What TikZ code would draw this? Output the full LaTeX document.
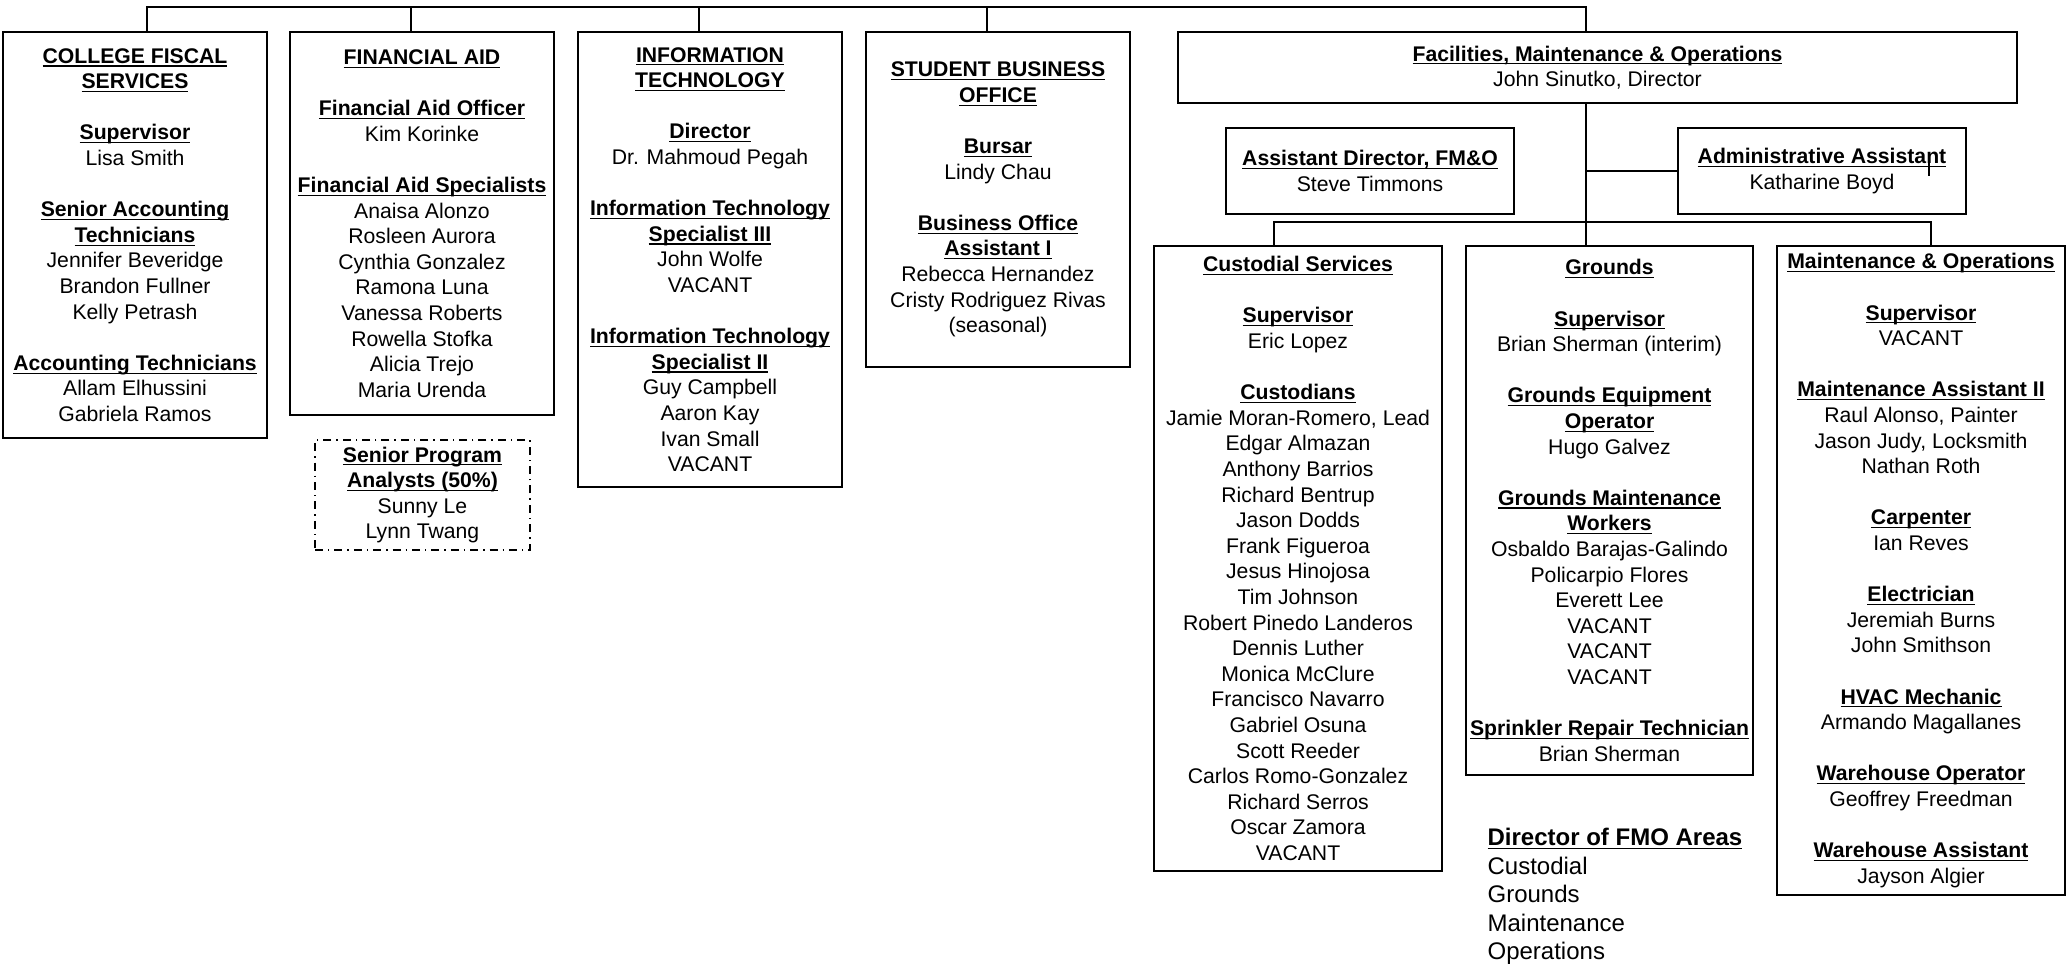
\documentclass[tikz,border=0pt]{standalone}
\usepackage{fontspec}
\setmainfont{Liberation Sans}
\newsavebox{\hdbox}
\newcommand{\hd}[1]{{\bfseries\sbox{\hdbox}{#1}\rlap{\rule[-1.7pt]{\wd\hdbox}{0.6pt}}\usebox{\hdbox}}}

\begin{document}
\begin{tikzpicture}[x=0.5pt, y=-0.5pt, line width=0.6pt,
  box/.style={draw, align=center, inner sep=0pt, font=\fontsize{10.6}{12.8}\selectfont},
  dotbox/.style={box, dash pattern=on 4pt off 2.5pt on 0.7pt off 2.5pt}]

\useasboundingbox (0,0) rectangle (2070,971);

% departments
\node[box, minimum width=132pt, minimum height=203pt] (cfs) at (135,235)
  {\hd{COLLEGE FISCAL}\\ \hd{SERVICES}\\[12.8pt]
   \hd{Supervisor}\\ Lisa Smith\\[12.8pt]
   \hd{Senior Accounting}\\ \hd{Technicians}\\ Jennifer Beveridge\\ Brandon Fullner\\ Kelly Petrash\\[12.8pt]
   \hd{Accounting Technicians}\\ Allam Elhussini\\ Gabriela Ramos};

\node[box, minimum width=132pt, minimum height=191.5pt] (fa) at (422,223.5)
  {\hd{FINANCIAL AID}\\[12.8pt]
   \hd{Financial Aid Officer}\\ Kim Korinke\\[12.8pt]
   \hd{Financial Aid Specialists}\\ Anaisa Alonzo\\ Rosleen Aurora\\ Cynthia Gonzalez\\ Ramona Luna\\
   Vanessa Roberts\\ Rowella Stofka\\ Alicia Trejo\\ Maria Urenda};

\node[dotbox, minimum width=107.5pt, minimum height=55pt] (spa) at (422.5,495)
  {\hd{Senior Program}\\ \hd{Analysts (50\%)}\\ Sunny Le\\ Lynn Twang};

\node[box, minimum width=132pt, minimum height=227.5pt] (it) at (710,259.5)
  {\hd{INFORMATION}\\ \hd{TECHNOLOGY}\\[12.8pt]
   \hd{Director}\\ Dr. Mahmoud Pegah\\[12.8pt]
   \hd{Information Technology}\\ \hd{Specialist III}\\ John Wolfe\\ VACANT\\[12.8pt]
   \hd{Information Technology}\\ \hd{Specialist II}\\ Guy Campbell\\ Aaron Kay\\ Ivan Small\\ VACANT};

\node[box, minimum width=132pt, minimum height=167.5pt] (sbo) at (998,199.5)
  {\hd{STUDENT BUSINESS}\\ \hd{OFFICE}\\[12.8pt]
   \hd{Bursar}\\ Lindy Chau\\[12.8pt]
   \hd{Business Office}\\ \hd{Assistant I}\\ Rebecca Hernandez\\ Cristy Rodriguez Rivas\\ (seasonal)};

\node[box, minimum width=419.5pt, minimum height=35.5pt] (fmo) at (1597.5,67.5)
  {\hd{Facilities, Maintenance \& Operations}\\ John Sinutko, Director};

\node[box, minimum width=144pt, minimum height=43pt] (asst) at (1370,171)
  {\hd{Assistant Director, FM\&O}\\ Steve Timmons};
\node[box, minimum width=144pt, minimum height=43pt] (admin) at (1822,171)
  {\hd{Administrative Assistant}\\ Katharine Boyd};

% FM&O areas
\node[box, minimum width=144pt, minimum height=312.5pt] (cust) at (1298,558.5)
  {\hd{Custodial Services}\\[12.8pt]
   \hd{Supervisor}\\ Eric Lopez\\[12.8pt]
   \hd{Custodians}\\ Jamie Moran-Romero, Lead\\ Edgar Almazan\\ Anthony Barrios\\ Richard Bentrup\\
   Jason Dodds\\ Frank Figueroa\\ Jesus Hinojosa\\ Tim Johnson\\ Robert Pinedo Landeros\\
   Dennis Luther\\ Monica McClure\\ Francisco Navarro\\ Gabriel Osuna\\ Scott Reeder\\
   Carlos Romo-Gonzalez\\ Richard Serros\\ Oscar Zamora\\ VACANT};

\node[box, minimum width=143.5pt, minimum height=264.5pt] (grnd) at (1609.5,510.5)
  {\hd{Grounds}\\[12.8pt]
   \hd{Supervisor}\\ Brian Sherman (interim)\\[12.8pt]
   \hd{Grounds Equipment}\\ \hd{Operator}\\ Hugo Galvez\\[12.8pt]
   \hd{Grounds Maintenance}\\ \hd{Workers}\\ Osbaldo Barajas-Galindo\\ Policarpio Flores\\ Everett Lee\\
   VACANT\\ VACANT\\ VACANT\\[12.8pt]
   \hd{Sprinkler Repair Technician}\\ Brian Sherman};

\node[box, minimum width=144pt, minimum height=324.5pt] (mo) at (1921,570.5)
  {\hd{Maintenance \& Operations}\\[12.8pt]
   \hd{Supervisor}\\ VACANT\\[12.8pt]
   \hd{Maintenance Assistant II}\\ Raul Alonso, Painter\\ Jason Judy, Locksmith\\ Nathan Roth\\[12.8pt]
   \hd{Carpenter}\\ Ian Reves\\[12.8pt]
   \hd{Electrician}\\ Jeremiah Burns\\ John Smithson\\[12.8pt]
   \hd{HVAC Mechanic}\\ Armando Magallanes\\[12.8pt]
   \hd{Warehouse Operator}\\ Geoffrey Freedman\\[12.8pt]
   \hd{Warehouse Assistant}\\ Jayson Algier};

\node[anchor=north west, align=left, inner sep=0pt, font=\fontsize{12}{14.3}\selectfont] (areas) at (1487,827.5)
  {\hd{Director of FMO Areas}\\ Custodial\\ Grounds\\ Maintenance\\ Operations};

% connectors
\coordinate (bus) at (1586,7);
\draw ([xshift=6pt]cfs.north) |- (bus) -- ([xshift=-5.75pt]fmo.north);
\foreach \n in {fa,it,sbo}
  \draw ([xshift=-5.5pt]\n.north) -- ([xshift=-5.5pt]\n.north |- bus);

\coordinate (hub) at (1586,222);
\draw ([xshift=-5.75pt]fmo.south) -- (hub) -- (hub |- grnd.north);
\draw ([xshift=-12pt]cust.north) |- (hub) -| ([xshift=5pt]mo.north);
\draw (hub |- admin.west) -- (admin.west);
\draw ([shift={(107,-17)}]admin.center) -- ++(0,22);

\end{tikzpicture}
\end{document}
